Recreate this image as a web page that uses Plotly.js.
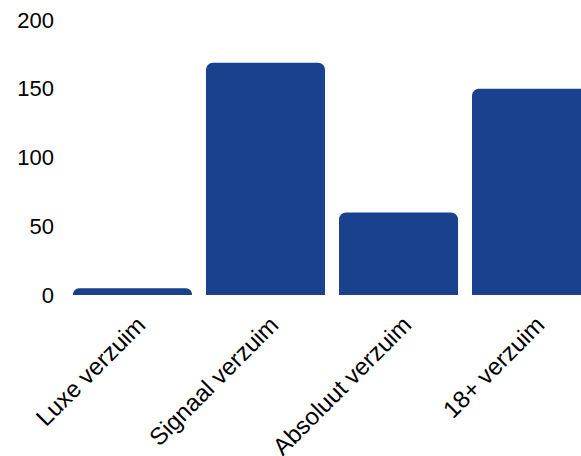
<!DOCTYPE html>
<html>
<head>
<meta charset="utf-8">
<script src="https://cdn.plot.ly/plotly-3.0.1.min.js"></script>
<style>html,body{margin:0;padding:0;background:#fff;}#chart{width:581px;height:456px;}</style>
</head>
<body>
<div id="chart"></div>
<script>
const categories = ["Luxe verzuim", "Signaal verzuim", "Absoluut verzuim", "18+ verzuim"];
const values = [5, 169, 60, 150];
const yTicks = [0, 50, 100, 150, 200];

const trace = {
  type: "bar",
  x: categories,
  y: values,
  marker: {color: "#19418e", cornerradius: 7},
  hoverinfo: "none"
};

const layout = {
  width: 581,
  height: 456,
  margin: {l: 66, r: 0, t: 20, b: 161},
  paper_bgcolor: "#ffffff",
  plot_bgcolor: "#ffffff",
  bargap: 0.105,
  showlegend: false,
  font: {family: "Liberation Sans, Arial, sans-serif", size: 22, color: "#000000"},
  xaxis: {
    range: [-0.5, 3.372],
    tickangle: -45,
    showgrid: false,
    zeroline: false,
    showline: false,
    ticks: "",
    ticklabelstandoff: 10,
    ticklabelshift: 6,
    tickfont: {size: 24}
  },
  yaxis: {
    range: [0, 200],
    tickvals: yTicks,
    showgrid: false,
    zeroline: false,
    showline: false,
    ticks: "",
    ticklabelstandoff: 11,
    tickfont: {size: 22}
  }
};

Plotly.newPlot("chart", [trace], layout, {displayModeBar: false, staticPlot: true});
</script>
</body>
</html>
